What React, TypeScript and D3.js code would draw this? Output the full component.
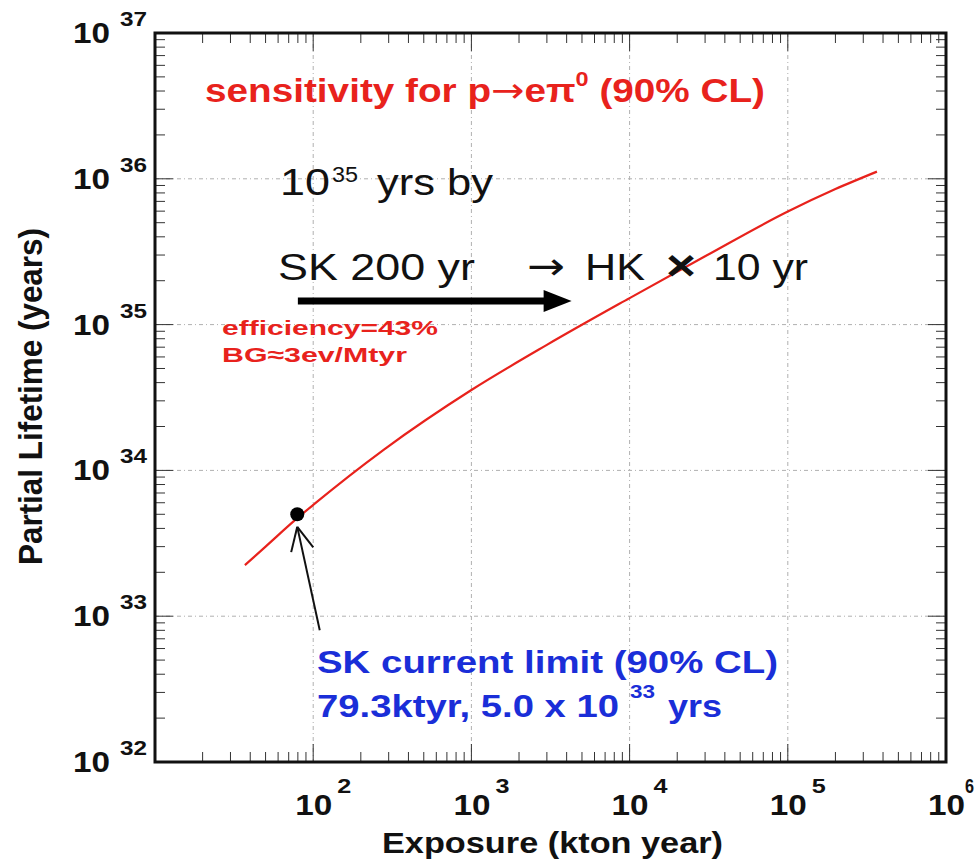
import React from 'react';
import * as d3 from 'd3';

// sensitivity curve, p -> e pi0 (90% CL)
const exposure = [37, 50, 79.3, 100, 280, 1000, 3000, 1e4, 3e4, 1e5, 2e5, 3.66e5];
const lifetime = [2.24e33, 3.0e33, 4.7e33, 5.8e33, 1.39e34, 3.56e34, 7.26e34, 1.52e35, 2.94e35, 5.96e35, 8.5e35, 1.12e36];

// SK current limit
const skPoint = { exposure: 79.3, lifetime: 5.0e33 };

const xDecades = [1, 2, 3, 4, 5, 6];
const xLabelDecades = [2, 3, 4, 5, 6];
const yDecades = [32, 33, 34, 35, 36, 37];

const RED = '#e8221c';
const BLUE = '#1a2ed8';
const FONT = '"Liberation Sans", Arial, Helvetica, sans-serif';
const ARROW_FONT = '"DejaVu Sans", sans-serif';

const App = () => {
  const width = 975, height = 865;
  const left = 155, right = 946, top = 33, bottom = 762;

  const x = d3.scaleLog().domain([10, 1e6]).range([left, right]);
  const y = d3.scaleLog().domain([1e32, 1e37]).range([bottom, top]);

  const line = d3.line<number>()
    .x((d, i) => x(exposure[i]))
    .y((d) => y(d))
    .curve(d3.curveMonotoneX);

  // minor ticks 2..9 per decade
  const xMinor: number[] = [];
  for (let e = 1; e < 6; e++) for (let m = 2; m <= 9; m++) xMinor.push(m * Math.pow(10, e));
  const yMinor: number[] = [];
  for (let e = 32; e < 37; e++) for (let m = 2; m <= 9; m++) yMinor.push(m * Math.pow(10, e));

  const minorLen = 10, majorLen = 18;

  // annotation arrow positions in data space
  const bigArrow = { x0: 80, x1: 4300, y: 1.45e35 };
  const smallArrow = { x0: 110, y0: 8.0e32, x1: 79.3, y1: 4.1e33 };

  const ax0 = x(smallArrow.x0), ay0 = y(smallArrow.y0);
  const ax1 = x(smallArrow.x1), ay1 = y(smallArrow.y1);
  const ang = Math.atan2(ay0 - ay1, ax0 - ax1);
  const wing = 26, spread = 0.45;

  const bx0 = x(bigArrow.x0), bx1 = x(bigArrow.x1), by = y(bigArrow.y);

  return (
    <svg width={width} height={height} style={{ position: 'absolute', left: 0, top: 0, background: '#fff' }}>
      <rect width={width} height={height} fill="#fff" />

      {/* grid */}
      <g stroke="#b0b0b0" strokeWidth={1} strokeDasharray="4 3 1 3">
        {xDecades.slice(1, -1).map(e => (
          <line key={'gx' + e} x1={x(Math.pow(10, e))} x2={x(Math.pow(10, e))} y1={top} y2={bottom} />
        ))}
        {yDecades.slice(1, -1).map(e => (
          <line key={'gy' + e} y1={y(Math.pow(10, e))} y2={y(Math.pow(10, e))} x1={left} x2={right} />
        ))}
      </g>

      {/* ticks */}
      <g stroke="#333" strokeWidth={1}>
        {xMinor.map((v, i) => (
          <g key={'xm' + i}>
            <line x1={x(v)} x2={x(v)} y1={bottom} y2={bottom - minorLen} />
            <line x1={x(v)} x2={x(v)} y1={top} y2={top + minorLen} />
          </g>
        ))}
        {xDecades.map(e => (
          <g key={'xM' + e}>
            <line x1={x(Math.pow(10, e))} x2={x(Math.pow(10, e))} y1={bottom} y2={bottom - majorLen} />
            <line x1={x(Math.pow(10, e))} x2={x(Math.pow(10, e))} y1={top} y2={top + majorLen} />
          </g>
        ))}
        {yMinor.map((v, i) => (
          <g key={'ym' + i}>
            <line y1={y(v)} y2={y(v)} x1={left} x2={left + minorLen} />
            <line y1={y(v)} y2={y(v)} x1={right} x2={right - minorLen} />
          </g>
        ))}
        {yDecades.map(e => (
          <g key={'yM' + e}>
            <line y1={y(Math.pow(10, e))} y2={y(Math.pow(10, e))} x1={left} x2={left + majorLen} />
            <line y1={y(Math.pow(10, e))} y2={y(Math.pow(10, e))} x1={right} x2={right - majorLen} />
          </g>
        ))}
      </g>

      {/* frame */}
      <rect x={left} y={top} width={right - left} height={bottom - top} fill="none" stroke="#111" strokeWidth={3} />

      {/* tick labels */}
      <g fontFamily={FONT} fill="#111" fontWeight="bold">
        {xLabelDecades.map(e => {
          const last = e === 6;
          return (
            <g key={'xl' + e}>
              <text x={x(Math.pow(10, e)) - 18} y={815} fontSize={29} textLength={37} lengthAdjust="spacingAndGlyphs">10</text>
              <text x={x(Math.pow(10, e)) + (last ? 19 : 24)} y={793} fontSize={20} textLength={last ? 9 : 14} lengthAdjust="spacingAndGlyphs">{e}</text>
            </g>
          );
        })}
        {yDecades.map(e => (
          <g key={'yl' + e}>
            <text x={73} y={y(Math.pow(10, e)) + 10} fontSize={29} textLength={37} lengthAdjust="spacingAndGlyphs">10</text>
            <text x={120} y={y(Math.pow(10, e)) - 7} fontSize={20} textLength={27} lengthAdjust="spacingAndGlyphs">{e}</text>
          </g>
        ))}
      </g>

      {/* axis titles */}
      <text x={382} y={853} fontFamily={FONT} fontWeight="bold" fontSize={29} fill="#111"
        textLength={341} lengthAdjust="spacingAndGlyphs">Exposure (kton year)</text>
      <text transform="translate(42,565) rotate(-90)" fontFamily={FONT} fontWeight="bold" fontSize={33} fill="#111"
        textLength={337} lengthAdjust="spacingAndGlyphs">Partial Lifetime (years)</text>

      {/* sensitivity curve */}
      <path d={line(lifetime) || ''} fill="none" stroke={RED} strokeWidth={2.2} />

      {/* SK current point */}
      <circle cx={x(skPoint.exposure)} cy={y(skPoint.lifetime)} r={7} fill="#000" />

      {/* thin arrow to SK point */}
      <g stroke="#111" strokeWidth={2} fill="none">
        <line x1={ax0} y1={ay0} x2={ax1} y2={ay1} />
        <line x1={ax1} y1={ay1} x2={ax1 + wing * Math.cos(ang - spread)} y2={ay1 + wing * Math.sin(ang - spread)} />
        <line x1={ax1} y1={ay1} x2={ax1 + wing * Math.cos(ang + spread)} y2={ay1 + wing * Math.sin(ang + spread)} />
      </g>

      {/* thick arrow SK -> HK */}
      <line x1={bx0} x2={bx1 - 24} y1={by} y2={by} stroke="#000" strokeWidth={7} />
      <path d={`M${bx1 - 28},${by - 11} L${bx1},${by} L${bx1 - 28},${by + 11} Z`} fill="#000" />

      {/* red title */}
      <text x={205} y={102} fontFamily={FONT} fontWeight="bold" fontSize={33} fill={RED}
        textLength={560} lengthAdjust="spacingAndGlyphs">
        sensitivity for p<tspan fontFamily={ARROW_FONT} fontWeight="normal" fontSize={34}>→</tspan>eπ<tspan fontSize={20} dy={-16}>0</tspan><tspan dy={16}> (90% CL)</tspan>
      </text>

      {/* black annotations */}
      <g fontFamily={FONT} fill="#111">
        <text x={280} y={195} fontSize={37} textLength={50} lengthAdjust="spacingAndGlyphs">10</text>
        <text x={332} y={182} fontSize={22} textLength={26} lengthAdjust="spacingAndGlyphs">35</text>
        <text x={377} y={195} fontSize={37} textLength={116} lengthAdjust="spacingAndGlyphs">yrs by</text>

        <text x={278} y={280} fontSize={37} textLength={197} lengthAdjust="spacingAndGlyphs">SK 200 yr</text>
        <text x={527} y={279} fontFamily={ARROW_FONT} fontSize={38} textLength={38} lengthAdjust="spacingAndGlyphs">→</text>
        <text x={585} y={280} fontSize={37} textLength={60} lengthAdjust="spacingAndGlyphs">HK</text>
        <text x={666} y={280} fontSize={42} fontWeight="bold" textLength={30} lengthAdjust="spacingAndGlyphs">×</text>
        <text x={713} y={280} fontSize={37} textLength={95} lengthAdjust="spacingAndGlyphs">10 yr</text>
      </g>

      {/* red efficiency notes */}
      <g fontFamily={FONT} fill={RED} fontWeight="bold" fontSize={21}>
        <text x={222} y={335} textLength={216} lengthAdjust="spacingAndGlyphs">efficiency=43%</text>
        <text x={222} y={362} textLength={185} lengthAdjust="spacingAndGlyphs">BG≈3ev/Mtyr</text>
      </g>

      {/* blue SK limit note */}
      <g fontFamily={FONT} fill={BLUE} fontWeight="bold">
        <text x={317} y={673} fontSize={32} textLength={461} lengthAdjust="spacingAndGlyphs">SK current limit (90% CL)</text>
        <text x={317} y={717} fontSize={32} textLength={302} lengthAdjust="spacingAndGlyphs">79.3ktyr, 5.0 x 10</text>
        <text x={630} y={698} fontSize={18} textLength={25} lengthAdjust="spacingAndGlyphs">33</text>
        <text x={668} y={717} fontSize={32} textLength={54} lengthAdjust="spacingAndGlyphs">yrs</text>
      </g>
    </svg>
  );
};

export default App;
